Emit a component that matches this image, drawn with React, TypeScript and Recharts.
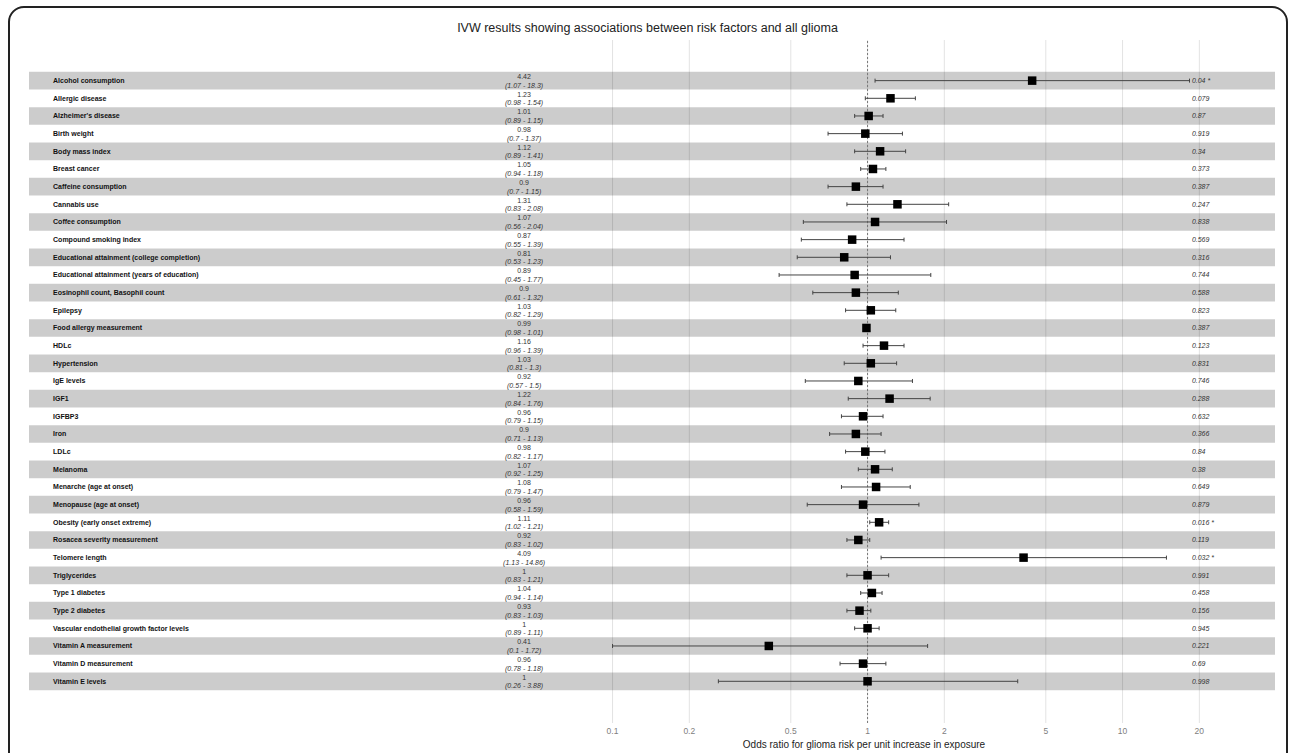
import React from 'react';
import { ScatterChart, Scatter, XAxis, YAxis, ReferenceArea, ReferenceLine, ErrorBar } from 'recharts';

const chartTitle = 'IVW results showing associations between risk factors and all glioma';
const xAxisTitle = 'Odds ratio for glioma risk per unit increase in exposure';

const categories = [
  'Alcohol consumption', 'Allergic disease', "Alzheimer's disease", 'Birth weight', 'Body mass index',
  'Breast cancer', 'Caffeine consumption', 'Cannabis use', 'Coffee consumption', 'Compound smoking index',
  'Educational attainment (college completion)', 'Educational attainment (years of education)',
  'Eosinophil count, Basophil count', 'Epilepsy', 'Food allergy measurement', 'HDLc', 'Hypertension',
  'IgE levels', 'IGF1', 'IGFBP3', 'Iron', 'LDLc', 'Melanoma', 'Menarche (age at onset)',
  'Menopause (age at onset)', 'Obesity (early onset extreme)', 'Rosacea severity measurement',
  'Telomere length', 'Triglycerides', 'Type 1 diabetes', 'Type 2 diabetes',
  'Vascular endothelial growth factor levels', 'Vitamin A measurement', 'Vitamin D measurement', 'Vitamin E levels',
];

const oddsRatios = [4.42, 1.23, 1.01, 0.98, 1.12, 1.05, 0.9, 1.31, 1.07, 0.87, 0.81, 0.89, 0.9, 1.03, 0.99, 1.16, 1.03, 0.92, 1.22, 0.96, 0.9, 0.98, 1.07, 1.08, 0.96, 1.11, 0.92, 4.09, 1, 1.04, 0.93, 1, 0.41, 0.96, 1];
const lowerCI = [1.07, 0.98, 0.89, 0.7, 0.89, 0.94, 0.7, 0.83, 0.56, 0.55, 0.53, 0.45, 0.61, 0.82, 0.98, 0.96, 0.81, 0.57, 0.84, 0.79, 0.71, 0.82, 0.92, 0.79, 0.58, 1.02, 0.83, 1.13, 0.83, 0.94, 0.83, 0.89, 0.1, 0.78, 0.26];
const upperCI = [18.3, 1.54, 1.15, 1.37, 1.41, 1.18, 1.15, 2.08, 2.04, 1.39, 1.23, 1.77, 1.32, 1.29, 1.01, 1.39, 1.3, 1.5, 1.76, 1.15, 1.13, 1.17, 1.25, 1.47, 1.59, 1.21, 1.02, 14.86, 1.21, 1.14, 1.03, 1.11, 1.72, 1.18, 3.88];
const pValueLabels = ['0.04 *', '0.079', '0.87', '0.919', '0.34', '0.373', '0.387', '0.247', '0.838', '0.569', '0.316', '0.744', '0.588', '0.823', '0.387', '0.123', '0.831', '0.746', '0.288', '0.632', '0.366', '0.84', '0.38', '0.649', '0.879', '0.016 *', '0.119', '0.032 *', '0.991', '0.458', '0.156', '0.945', '0.221', '0.69', '0.998'];

const xTicks = [0.1, 0.2, 0.5, 1, 2, 5, 10, 20];
const xDomain = [0.000515, 39.6];
const yDomain = [-2.3, 36.36];

// column positions (in odds-ratio units on the log axis)
const LABEL_COL = 0.00064;
const OR_COL = 0.045;
const P_COL = 18.7;

const FONT = '"Liberation Sans", Arial, Helvetica, sans-serif';

const pointRows = categories.map((name, i) => ({
  name, y: i, x: oddsRatios[i], err: [oddsRatios[i] - lowerCI[i], upperCI[i] - oddsRatios[i]],
}));
const labelRows = categories.map((name, i) => ({ name, y: i, x: LABEL_COL }));
const orRows = categories.map((name, i) => ({
  y: i, x: OR_COL, top: String(oddsRatios[i]), bottom: `(${lowerCI[i]} - ${upperCI[i]})`,
}));
const pRows = categories.map((name, i) => ({ y: i, x: P_COL, p: pValueLabels[i] }));

const SquareShape = (props: any) => {
  const { cx, cy } = props;
  if (cx == null || cy == null) return null;
  const s = 8.5;
  return <rect x={cx - s / 2} y={cy - s / 2} width={s} height={s} fill="#000" />;
};

const LabelShape = (props: any) => (
  <text x={props.cx} y={props.cy} dy="0.35em" fontSize={7} fontWeight="bold" fill="#111" fontFamily={FONT}>
    {props.payload.name}
  </text>
);

const OrShape = (props: any) => (
  <g fontFamily={FONT} fontSize={7} fill="#333" textAnchor="middle">
    <text x={props.cx} y={props.cy - 4} dy="0.35em">{props.payload.top}</text>
    <text x={props.cx} y={props.cy + 4.5} dy="0.35em" fontStyle="italic">{props.payload.bottom}</text>
  </g>
);

const PShape = (props: any) => (
  <text x={props.cx} y={props.cy} dy="0.35em" fontSize={7} fontStyle="italic" fill="#333" fontFamily={FONT}>
    {props.payload.p}
  </text>
);

const AxisTitle = (props: any) => {
  const vb = props.viewBox || { x: 0, y: 0, width: 0, height: 0 };
  return (
    <text x={vb.x + 835} y={vb.y + 25} textAnchor="middle" fontSize={10} fill="#222" fontFamily={FONT}>
      {xAxisTitle}
    </text>
  );
};

export default function App() {
  return (
    <div style={{ position: 'absolute', left: 0, top: 0, width: 1295, height: 753, overflow: 'hidden', background: '#fff', fontFamily: FONT }}>
      <div style={{ position: 'absolute', left: 8, top: 6, width: 1280, height: 820, border: '2px solid #222', borderRadius: 16, boxSizing: 'border-box' }} />
      <div style={{ position: 'absolute', left: 0, top: 21, width: 1295, textAlign: 'center', fontSize: 12.5, color: '#222' }}>
        {chartTitle}
      </div>
      <div style={{ position: 'absolute', left: 0, top: 0 }}>
        <ScatterChart width={1295} height={753} margin={{ top: 40, right: 20, bottom: 0, left: 29 }}>
          <XAxis
            type="number"
            dataKey="x"
            scale="log"
            domain={xDomain}
            allowDataOverflow
            ticks={xTicks}
            axisLine={false}
            tickLine={false}
            tickSize={3}
            height={30}
            tick={{ fontSize: 8.5, fill: '#808080', fontFamily: FONT }}
            label={<AxisTitle />}
          />
          <YAxis type="number" dataKey="y" domain={yDomain} reversed allowDataOverflow hide width={0} />
          {xTicks.map((t) => (
            <ReferenceLine key={`g${t}`} x={t} stroke="#e3e3e3" strokeWidth={1} zIndex={-50} />
          ))}
          {categories.map((c, i) =>
            i % 2 === 0 ? (
              <ReferenceArea key={c} y1={i - 0.5} y2={i + 0.5} fill="#000" fillOpacity={0.2} stroke="none" ifOverflow="visible" />
            ) : null
          )}
          <ReferenceLine x={1} stroke="#777" strokeDasharray="2 2" strokeWidth={1} />
          <Scatter data={labelRows} shape={LabelShape} isAnimationActive={false} />
          <Scatter data={orRows} shape={OrShape} isAnimationActive={false} />
          <Scatter data={pRows} shape={PShape} isAnimationActive={false} />
          <Scatter data={pointRows} shape={SquareShape} isAnimationActive={false}>
            <ErrorBar dataKey="err" direction="x" width={2} stroke="#444" strokeWidth={1} />
          </Scatter>
        </ScatterChart>
      </div>
    </div>
  );
}
